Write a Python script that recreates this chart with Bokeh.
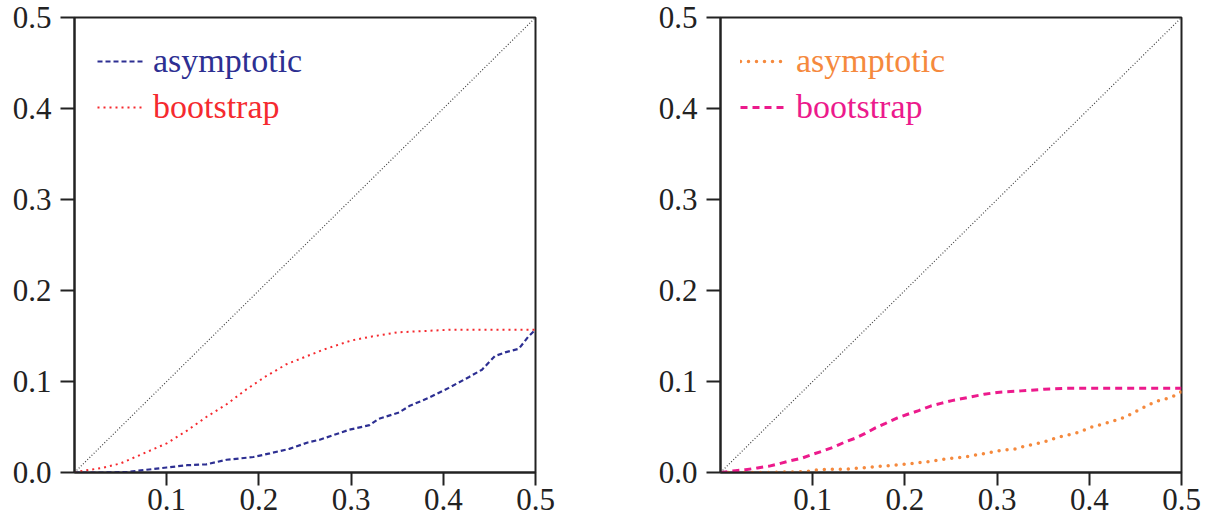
from bokeh.plotting import figure
from bokeh.models import Range1d, FixedTicker, Slope, Legend, LegendItem, CustomJSTickFormatter
from bokeh.layouts import row
from bokeh.embed import file_html
from bokeh.resources import INLINE

# ---- data ----
left_boot_x = [0, 0.01, 0.03, 0.05, 0.075, 0.1, 0.122, 0.143, 0.165, 0.186, 0.208, 0.23, 0.25, 0.27, 0.3, 0.32, 0.35, 0.39, 0.41, 0.45, 0.5]
left_boot_y = [0, 0.002, 0.005, 0.010, 0.021, 0.032, 0.046, 0.061, 0.075, 0.091, 0.106, 0.119, 0.127, 0.135, 0.145, 0.149, 0.154, 0.156, 0.157, 0.157, 0.157]

left_asym_x = [0, 0.03, 0.057, 0.078, 0.1, 0.122, 0.143, 0.165, 0.194, 0.212, 0.233, 0.253, 0.266, 0.298, 0.32, 0.33, 0.352, 0.363, 0.384, 0.406, 0.428, 0.442, 0.456, 0.467, 0.482, 0.492, 0.5]
left_asym_y = [0, 0, 0.0005, 0.003, 0.0055, 0.008, 0.009, 0.014, 0.017, 0.021, 0.026, 0.033, 0.036, 0.047, 0.052, 0.059, 0.066, 0.073, 0.082, 0.093, 0.105, 0.113, 0.128, 0.132, 0.136, 0.149, 0.157]

right_boot_x = [0, 0.016, 0.027, 0.04, 0.053, 0.065, 0.076, 0.089, 0.1, 0.112, 0.123, 0.136, 0.147, 0.157, 0.168, 0.179, 0.192, 0.203, 0.215, 0.228, 0.239, 0.251, 0.261, 0.286, 0.3, 0.326, 0.351, 0.373, 0.5]
right_boot_y = [0, 0.002, 0.003, 0.005, 0.007, 0.010, 0.013, 0.016, 0.020, 0.024, 0.028, 0.034, 0.038, 0.043, 0.049, 0.054, 0.060, 0.064, 0.068, 0.073, 0.076, 0.079, 0.081, 0.086, 0.088, 0.0897, 0.0915, 0.0925, 0.0925]

right_asym_x = [0, 0.05, 0.094, 0.105, 0.141, 0.17, 0.199, 0.226, 0.246, 0.264, 0.282, 0.302, 0.32, 0.33, 0.349, 0.367, 0.385, 0.403, 0.421, 0.439, 0.456, 0.472, 0.49, 0.5]
right_asym_y = [0, 0, 0.001, 0.003, 0.004, 0.0065, 0.009, 0.012, 0.015, 0.017, 0.020, 0.024, 0.026, 0.029, 0.033, 0.039, 0.043, 0.050, 0.055, 0.061, 0.070, 0.078, 0.083, 0.089]

x_ticks = [0.1, 0.2, 0.3, 0.4, 0.5]
y_ticks = [0.0, 0.1, 0.2, 0.3, 0.4, 0.5]
labels = ["asymptotic", "bootstrap"]

FONT = "Liberation Serif"
INK = "#222222"
FRAME_H = 455


def make_panel(border_left, border_right):
    p = figure(frame_width=461, frame_height=FRAME_H,
               min_border_left=border_left, min_border_right=border_right,
               min_border_top=17, min_border_bottom=52,
               x_range=Range1d(0, 0.5), y_range=Range1d(0, 0.5),
               output_backend="svg", toolbar_location=None)
    p.xgrid.visible = False
    p.ygrid.visible = False
    p.outline_line_color = INK
    p.outline_line_width = 2
    p.background_fill_color = "white"
    p.border_fill_color = "white"
    for ax in (p.xaxis[0], p.yaxis[0]):
        ax.axis_line_color = INK
        ax.axis_line_width = 2
        ax.major_tick_line_color = INK
        ax.major_tick_line_width = 2
        ax.major_tick_in = 0
        ax.minor_tick_line_color = None
        ax.major_label_text_font = FONT
        ax.major_label_text_font_size = "31px"
        ax.major_label_text_color = INK
        ax.formatter = CustomJSTickFormatter(code="return tick.toFixed(1);")
    p.xaxis[0].ticker = FixedTicker(ticks=x_ticks)
    p.yaxis[0].ticker = FixedTicker(ticks=y_ticks)
    p.xaxis[0].major_tick_out = 13
    p.yaxis[0].major_tick_out = 14
    p.xaxis[0].major_label_standoff = 3
    p.yaxis[0].major_label_standoff = 9
    p.add_layout(Slope(gradient=1, y_intercept=0, line_color="#444444",
                       line_width=1.2, line_dash="1 2"))
    return p


def add_legend(p, renderer, label, color, vx, vy):
    leg = Legend(items=[LegendItem(label=label, renderers=[renderer])],
                 location=(vx, vy), orientation="vertical",
                 glyph_width=46, glyph_height=46, label_height=46,
                 label_standoff=10, padding=0, margin=0, spacing=0,
                 border_line_color=None, background_fill_alpha=0,
                 label_text_font=FONT, label_text_font_size="34px",
                 label_text_color=color)
    p.add_layout(leg)


BLUE = "#2d2f92"
RED = "#f52a2f"
ORANGE = "#f5893d"
MAGENTA = "#ec1a8c"

p1 = make_panel(74, 65)
r1a = p1.line(left_asym_x, left_asym_y, line_color=BLUE, line_width=2.2, line_dash="5 3")
r1b = p1.line(left_boot_x, left_boot_y, line_color=RED, line_width=2, line_dash="2 4")
add_legend(p1, r1a, labels[0], BLUE, 23, 388)
add_legend(p1, r1b, labels[1], RED, 23, 342)

p2 = make_panel(120, 30)
r2a = p2.line(right_asym_x, right_asym_y, line_color=ORANGE, line_width=3.5,
              line_dash="0 8", line_cap="round")
r2b = p2.line(right_boot_x, right_boot_y, line_color=MAGENTA, line_width=3, line_dash="7 5")
add_legend(p2, r2a, labels[0], ORANGE, 20, 388)
add_legend(p2, r2b, labels[1], MAGENTA, 20, 342)

layout = row(p1, p2)
open("out.html", "w").write(file_html(layout, INLINE))
